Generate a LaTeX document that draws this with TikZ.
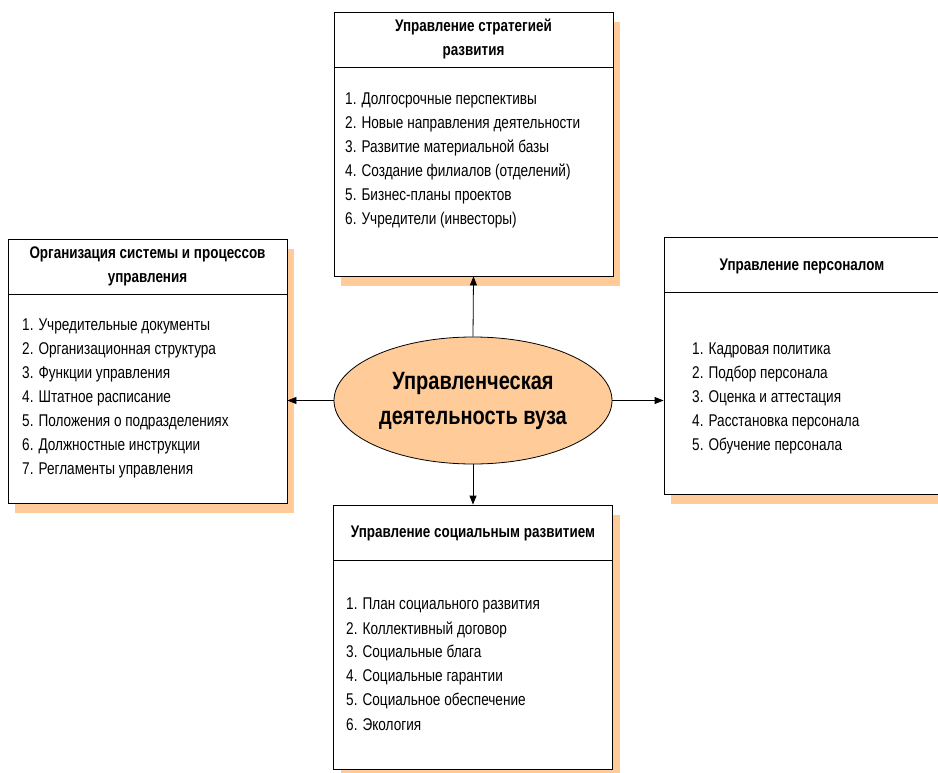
\documentclass[tikz,border=0pt]{standalone}
\usepackage{fontspec}
\newfontfamily\narrow[FakeStretch=0.8]{Liberation Sans}
\usetikzlibrary{shapes.geometric,arrows.meta,shadows}
\definecolor{shade}{HTML}{FFCC99}
\definecolor{ellfill}{HTML}{FFCC99}

\begin{document}
\begin{tikzpicture}[x=1pt,y=-1pt,
  panel/.style={draw=black, line width=0.8pt, fill=white, rectangle, inner sep=0pt,
    minimum width=279pt, minimum height=264pt,
    drop shadow={shadow xshift=7pt, shadow yshift=-10pt, fill=shade, opacity=1}},
  head/.style={font=\narrow\bfseries\fontsize{16.8}{24}\selectfont, align=center, inner sep=0pt},
  item/.style={font=\narrow\fontsize{17}{24}\selectfont, anchor=west, inner sep=0pt},
  link/.style={line width=0.8pt, -{Triangle[length=9pt,width=7pt]}}]
\useasboundingbox (0,0) rectangle (938,773);
\clip (0,0) rectangle (938,773);

% four panels
\node[panel] (top) at (473.5,144) {};
\node[panel] (left) at (147.5,371) {};
\node[panel, minimum height=257pt] (right) at (803.5,365.5) {};
\node[panel] (bottom) at (473,637) {};

% header dividers
\foreach \p in {top,left,right,bottom}
  \draw[line width=0.8pt] ([yshift=-56pt]\p.north west) -- ([yshift=-56pt]\p.north east);

% headers
\node[head] (top-h) at (473.5,39) {Управление стратегией\\развития};
\node[head] (left-h) at (147.5,266) {Организация системы и процессов\\управления};
\node[head] (right-h) at (802,266) {Управление персоналом};
\node[head] (bottom-h) at (473,533) {Управление социальным развитием};

% item lists
\foreach \t [count=\i] in {{1. Долгосрочные перспективы},{2. Новые направления деятельности},
  {3. Развитие материальной базы},{4. Создание филиалов (отделений)},
  {5. Бизнес-планы проектов},{6. Учредители (инвесторы)}}
  \node[item] (top-\i) at (345,76+24*\i) {\t};

\foreach \t [count=\i] in {{1. Учредительные документы},{2. Организационная структура},
  {3. Функции управления},{4. Штатное расписание},{5. Положения о подразделениях},
  {6. Должностные инструкции},{7. Регламенты управления}}
  \node[item] (left-\i) at (22,302+24*\i) {\t};

\foreach \t [count=\i] in {{1. Кадровая политика},{2. Подбор персонала},
  {3. Оценка и аттестация},{4. Расстановка персонала},{5. Обучение персонала}}
  \node[item] (right-\i) at (692,326+24*\i) {\t};

\foreach \t [count=\i] in {{1. План социального развития},{2. Коллективный договор},
  {3. Социальные блага},{4. Социальные гарантии},{5. Социальное обеспечение},
  {6. Экология}}
  \node[item] (bottom-\i) at (346,582+23.8*\i) {\t};

% central ellipse
\node[ellipse, draw=black, line width=0.8pt, fill=ellfill, minimum width=278pt,
  minimum height=127pt, inner sep=0pt, align=center,
  font=\narrow\bfseries\fontsize{25}{35}\selectfont] (core) at (473,400.5)
  {Управленческая\\деятельность вуза};

% connectors
\draw[link] (core.north) -- (top.south);
\draw[link] (core.south) -- (bottom.north);
\draw[link] (core.west) -- (core.west -| left.east);
\draw[link] (core.east) -- (core.east -| right.west);
\end{tikzpicture}
\end{document}
